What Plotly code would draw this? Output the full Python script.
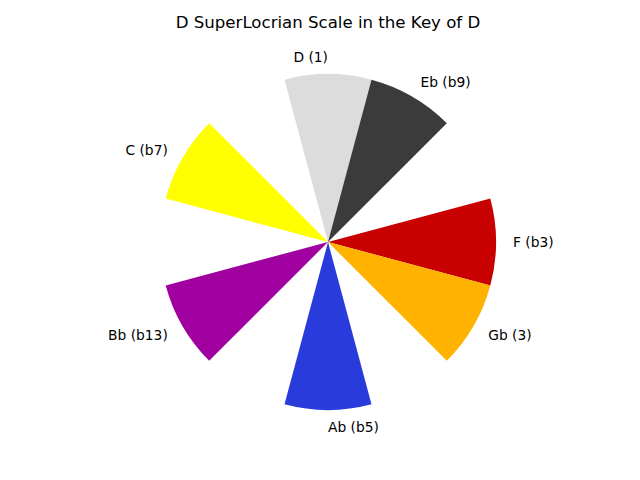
import plotly.graph_objects as go

notes = ["D (1)", "Eb (b9)", "F (b3)", "Gb (3)", "Ab (b5)", "Bb (b13)", "C (b7)"]
semitones = [0, 1, 3, 4, 6, 8, 10]
colors = ["#DCDCDC", "#3B3B3B", "#C80000", "#FFB300", "#2A3BDB", "#A0009F", "#FFFF00"]
bar_r = [1, 1, 1, 1, 1, 1, 1]
label_r = 1.101
text_pos = ["middle left", "middle right", "middle right", "middle right",
            "middle right", "middle left", "middle left"]

theta = [s * 30 for s in semitones]

fig = go.Figure()
fig.add_trace(go.Barpolar(
    r=bar_r, theta=theta, width=[30] * len(theta),
    marker=dict(color=colors, line=dict(width=0)),
    hoverinfo="skip", showlegend=False, subplot="polar",
))
fig.add_trace(go.Scatterpolar(
    r=[label_r] * len(theta), theta=theta, mode="text", text=notes,
    textposition=text_pos, cliponaxis=False,
    textfont=dict(family="DejaVu Sans", size=13.8, color="black"),
    hoverinfo="skip", showlegend=False, subplot="polar2",
))

ang = dict(rotation=90, direction="clockwise", visible=False,
           showgrid=False, showline=False, showticklabels=False)
rad = dict(range=[0, label_r], visible=False, showgrid=False)
dx = [(328 - 185) / 640, (328 + 185) / 640]
dy = [(238 - 185) / 480, (238 + 185) / 480]
shift = 2 / 480

fig.update_layout(
    width=640, height=480,
    margin=dict(l=0, r=0, t=0, b=0),
    paper_bgcolor="white",
    font=dict(family="DejaVu Sans"),
    title=dict(text="D SuperLocrian Scale in the Key of D", x=328 / 640, xanchor="center",
               y=1 - 22 / 480, yanchor="middle", font=dict(size=16.6, color="black")),
    polar=dict(domain=dict(x=dx, y=dy), bgcolor="white", bargap=0,
               radialaxis=rad, angularaxis=ang),
    polar2=dict(domain=dict(x=dx, y=[dy[0] - shift, dy[1] - shift]),
                bgcolor="rgba(0,0,0,0)", radialaxis=rad, angularaxis=ang),
)

fig.write_html("out.html")
